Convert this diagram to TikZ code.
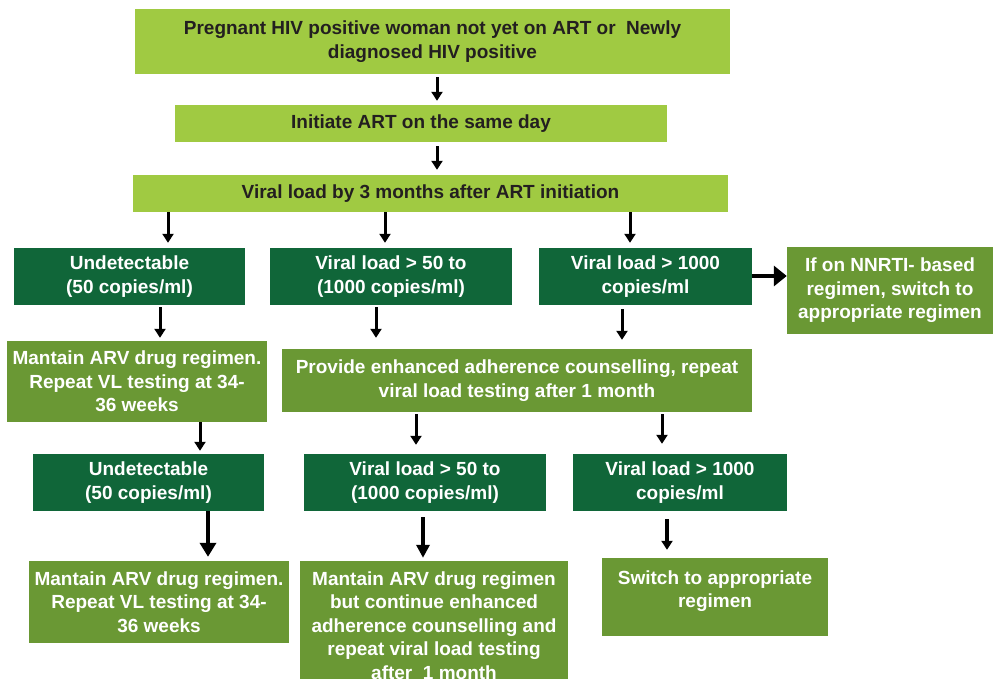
\documentclass[tikz,border=0pt]{standalone}
\usepackage{fontspec}
\setmainfont{Liberation Sans}
\usetikzlibrary{arrows.meta}
\definecolor{lightgreen}{RGB}{160,202,66}
\definecolor{darkgreen}{RGB}{16,102,57}
\definecolor{olive}{RGB}{106,152,52}
\definecolor{inkdark}{RGB}{35,31,32}
\tikzset{
  box/.style={inner sep=0pt, align=center, font=\fontsize{19}{23.5}\selectfont\bfseries},
  lightbox/.style={box, fill=lightgreen, text=inkdark},
  darkbox/.style={box, fill=darkgreen, text=white},
  olivebox/.style={box, fill=olive, text=white},
  arr/.style={line width=3pt, -{Triangle[width=11pt,length=9pt]}},
  bigarr/.style={line width=4.5pt, -{Triangle[width=16pt,length=14pt]}},
  sidearr/.style={line width=4.5pt, -{Triangle[width=20pt,length=13pt]}},
}
\begin{document}
\begin{tikzpicture}[x=1pt,y=-1pt]
\useasboundingbox (0,0) rectangle (993,679);
\clip (0,0) rectangle (993,679);

% top chain
\node[lightbox, minimum width=595, minimum height=65] (start) at (432.5,41.5)
  {Pregnant HIV positive woman not yet on ART or \ Newly\\diagnosed HIV positive};
\node[lightbox, minimum width=492, minimum height=37] (init) at (421,123.5)
  {Initiate ART on the same day};
\node[lightbox, minimum width=595, minimum height=37] (vl3) at (430.5,193.5)
  {Viral load by 3 months after ART initiation};

% first viral load result
\node[darkbox, minimum width=231, minimum height=57] (undA) at (129.5,276.5)
  {Undetectable\\(50 copies/ml)};
\node[darkbox, minimum width=242, minimum height=57] (midA) at (391,276.5)
  {Viral load > 50 to\\(1000 copies/ml)};
\node[darkbox, minimum width=213, minimum height=57] (highA) at (645.5,276.5)
  {Viral load > 1000\\copies/ml};
\node[olivebox, minimum width=206, minimum height=87] (nnrti) at (890,290.5)
  {If on NNRTI- based\\regimen, switch to\\appropriate regimen};

% actions after first result
\node[olivebox, minimum width=260, minimum height=81] (keepA) at (137,381.5)
  {Mantain ARV drug regimen.\\Repeat VL testing at 34-\\36 weeks};
\node[olivebox, minimum width=470, minimum height=63] (eac) at (517,380.5)
  {Provide enhanced adherence counselling, repeat\\viral load testing after 1 month};

% second viral load result
\node[darkbox, minimum width=231, minimum height=57] (undB) at (148.5,482.5)
  {Undetectable\\(50 copies/ml)};
\node[darkbox, minimum width=242, minimum height=57] (midB) at (425,482.5)
  {Viral load > 50 to\\(1000 copies/ml)};
\node[darkbox, minimum width=214, minimum height=57] (highB) at (680,482.5)
  {Viral load > 1000\\copies/ml};

% final actions
\node[olivebox, minimum width=260, minimum height=82] (keepB) at (159,602)
  {Mantain ARV drug regimen.\\Repeat VL testing at 34-\\36 weeks};
\node[olivebox, minimum width=268, minimum height=129] (keepC) at (434,625.5)
  {Mantain ARV drug regimen\\but continue enhanced\\adherence counselling and\\repeat viral load testing\\after \ 1 month};
\node[olivebox, minimum width=226, minimum height=78] (switch) at (715,597) {};
\node[box, text=white] (switchtext) at ([yshift=6pt]switch.center)
  {Switch to appropriate\\regimen};

% arrow columns
\coordinate (c1) at (437,0);
\coordinate (c2) at (168,0);
\coordinate (c3) at (385,0);
\coordinate (c4) at (630,0);
\coordinate (c5) at (160,0);
\coordinate (c6) at (376,0);
\coordinate (c7) at (622,0);
\coordinate (c8) at (200,0);
\coordinate (c9) at (416,0);
\coordinate (c10) at (662,0);
\coordinate (c11) at (208,0);
\coordinate (c12) at (423,0);
\coordinate (c13) at (667,0);
\coordinate (r1) at (0,276);

\draw[arr, shorten <=3pt, shorten >=4pt] (start.south -| c1) -- (init.north -| c1);
\draw[arr, shorten <=4pt, shorten >=5pt] (init.south -| c1) -- (vl3.north -| c1);
\draw[arr, shorten >=5pt] (vl3.south -| c2) -- (undA.north -| c2);
\draw[arr, shorten >=5pt] (vl3.south -| c3) -- (midA.north -| c3);
\draw[arr, shorten >=5pt] (vl3.south -| c4) -- (highA.north -| c4);
\draw[sidearr] (highA.east |- r1) -- (nnrti.west |- r1);
\draw[arr, shorten <=2pt, shorten >=3pt] (undA.south -| c5) -- (keepA.north -| c5);
\draw[arr, shorten <=2pt, shorten >=11pt] (midA.south -| c6) -- (eac.north -| c6);
\draw[arr, shorten <=4pt, shorten >=9pt] (highA.south -| c7) -- (eac.north -| c7);
\draw[arr, shorten >=3pt] (keepA.south -| c8) -- (undB.north -| c8);
\draw[arr, shorten <=2pt, shorten >=9pt] (eac.south -| c9) -- (midB.north -| c9);
\draw[arr, shorten <=2pt, shorten >=10pt] (eac.south -| c10) -- (highB.north -| c10);
\draw[bigarr, shorten >=4pt] (undB.south -| c11) -- (keepB.north -| c11);
\draw[line width=4pt, -{Triangle[width=13pt,length=13pt]}, shorten <=6pt, shorten >=3pt] (midB.south -| c12) -- (keepC.north -| c12);
\draw[arr, line width=3.5pt, shorten <=8pt, shorten >=8pt] (highB.south -| c13) -- (switch.north -| c13);
\end{tikzpicture}
\end{document}
